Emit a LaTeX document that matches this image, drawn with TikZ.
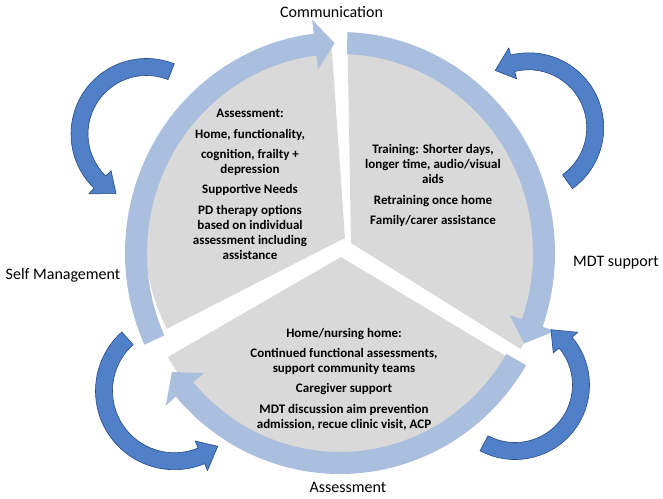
\documentclass[tikz,border=0pt]{standalone}
\usepackage{fontspec}
\setmainfont{Carlito}
\usetikzlibrary{calc}
\definecolor{sectorgrey}{RGB}{217,217,217}
\definecolor{ringblue}{RGB}{170,190,222}
\definecolor{arrowlight}{RGB}{80,128,200}
\definecolor{arrowdark}{RGB}{40,78,145}
\definecolor{arrowedge}{RGB}{40,74,132}
\pgfdeclareradialshading{arrowshade}{\pgfpoint{0bp}{0bp}}{color(0bp)=(arrowlight); color(30bp)=(arrowlight); color(45bp)=(arrowdark); color(50bp)=(arrowdark)}
\begin{document}
\begin{tikzpicture}[x=1pt,y=1pt,
  sector/.style={fill=sectorgrey},
  ringarc/.style={fill=ringblue},
  cyclearrow/.style={draw=arrowedge, line width=0.6pt, line join=round},
  blocktext/.style={font=\fontsize{13}{15}\selectfont\bfseries, align=center, anchor=north, inner sep=0pt},
  outerlabel/.style={font=\fontsize{16}{19}\selectfont, inner sep=0pt}
]
\useasboundingbox (0,0) rectangle (663,498);
\coordinate (Cr) at (340,245);

% grey sectors
\fill[sector] (345,260) -- ++(94:200pt) arc[start angle=94, end angle=207, radius=200pt] -- cycle;
\fill[sector] (351,255) -- ++(-32:200pt) arc[start angle=-32, end angle=91, radius=200pt] -- cycle;
\fill[sector] (341,241) -- ++(210:200pt) arc[start angle=210, end angle=329, radius=200pt] -- cycle;

% light blue ring arcs
\fill[ringarc] ([shift={(Cr)}]204.5:215pt and 221pt) arc[start angle=204.5, end angle=97, x radius=215pt, y radius=221pt]
  -- ([shift={(Cr)}]97:229pt and 235pt) -- ([shift={(Cr)}]91.5:204pt and 210pt) -- ([shift={(Cr)}]97:179pt and 185pt)
  -- ([shift={(Cr)}]97:193pt and 199pt) arc[start angle=97, end angle=204.5, x radius=193pt, y radius=199pt] -- cycle;
\fill[ringarc] ([shift={(Cr)}]88:215pt and 221pt) arc[start angle=88, end angle=-19.5, x radius=215pt, y radius=221pt]
  -- ([shift={(Cr)}]-19.5:228pt and 234pt) -- ([shift={(Cr)}]-25.5:204pt and 210pt) -- ([shift={(Cr)}]-19.5:180pt and 186pt)
  -- ([shift={(Cr)}]-19.5:193pt and 199pt) arc[start angle=-19.5, end angle=88, x radius=193pt, y radius=199pt] -- cycle;
\fill[ringarc] ([shift={(Cr)}]329.5:216pt and 221pt) arc[start angle=329.5, end angle=220.5, x radius=216pt, y radius=221pt]
  -- ([shift={(Cr)}]220.5:229pt and 235pt) -- ([shift={(Cr)}]214.5:204pt and 210pt) -- ([shift={(Cr)}]220.5:179pt and 185pt)
  -- ([shift={(Cr)}]220.5:193pt and 199pt) arc[start angle=220.5, end angle=329.5, x radius=193pt, y radius=199pt] -- cycle;

% dark blue outer curved arrows
\coordinate (TLc) at (146.5,364);
\coordinate (TRc) at (528.8,370.3);
\coordinate (BLc) at (174.4,107.2);
\coordinate (BRc) at (515,113);
\draw[cyclearrow, path picture={\shade[shading=arrowshade] (TLc) circle (88pt);}]
  ([shift={(TLc)}]68.4:75.5pt) arc[start angle=68.4, end angle=226, radius=75.5pt]
  -- ([shift={(TLc)}]226:83pt) -- ([shift={(TLc)}]243:67pt) -- ([shift={(TLc)}]226:51pt)
  -- ([shift={(TLc)}]226:58.5pt) arc[start angle=226, end angle=68.4, radius=58.5pt] -- cycle;
\draw[cyclearrow, path picture={\shade[shading=arrowshade] (TRc) circle (88pt);}]
  ([shift={(TRc)}]-54.4:74.9pt) arc[start angle=-54.4, end angle=104, radius=74.9pt]
  -- ([shift={(TRc)}]104:82.4pt) -- ([shift={(TRc)}]120.4:66.4pt) -- ([shift={(TRc)}]104:50.4pt)
  -- ([shift={(TRc)}]104:57.9pt) arc[start angle=104, end angle=-54.4, radius=57.9pt] -- cycle;
\draw[cyclearrow, path picture={\shade[shading=arrowshade] (BLc) circle (92pt);}]
  ([shift={(BLc)}]131.8:78.9pt) arc[start angle=131.8, end angle=292.5, radius=78.9pt]
  -- ([shift={(BLc)}]292.5:86.4pt) -- ([shift={(BLc)}]308:70.4pt) -- ([shift={(BLc)}]292.5:54.4pt)
  -- ([shift={(BLc)}]292.5:61.9pt) arc[start angle=292.5, end angle=131.8, radius=61.9pt] -- cycle;
\draw[cyclearrow, path picture={\shade[shading=arrowshade] (BRc) circle (88pt);}]
  ([shift={(BRc)}]242:74.5pt) arc[start angle=242, end angle=400, radius=74.5pt]
  -- ([shift={(BRc)}]400:82pt) -- ([shift={(BRc)}]417:66pt) -- ([shift={(BRc)}]400:50pt)
  -- ([shift={(BRc)}]400:57.5pt) arc[start angle=400, end angle=242, radius=57.5pt] -- cycle;

% texts in sectors
\node[blocktext] (leftblock) at (250,389.5) {Assessment:\\[6pt]
Home, functionality,\\[5pt]
cognition, frailty +\\
depression\\[5pt]
Supportive Needs\\[6pt]
PD therapy options\\
based on individual\\
assessment including\\
assistance};
\node[blocktext] (rightblock) at (433,353.5) {Training: Shorter days,\\
longer time, audio/visual\\
aids\\[6pt]
Retraining once home\\[5pt]
Family/carer assistance};
\node[blocktext] (bottomblock) at (344,169.5) {Home/nursing home:\\[5pt]
Continued functional assessments,\\
support community teams\\[5pt]
Caregiver support\\[6pt]
MDT discussion aim prevention\\
admission, recue clinic visit, ACP};

% outer labels
\node[outerlabel] (communication) at (331.5,486) {Communication};
\node[outerlabel] (selfmanagement) at (63,223) {Self Management};
\node[outerlabel] (mdtsupport) at (616,235) {MDT support};
\node[outerlabel] (assessment) at (348,11) {Assessment};
\end{tikzpicture}
\end{document}
